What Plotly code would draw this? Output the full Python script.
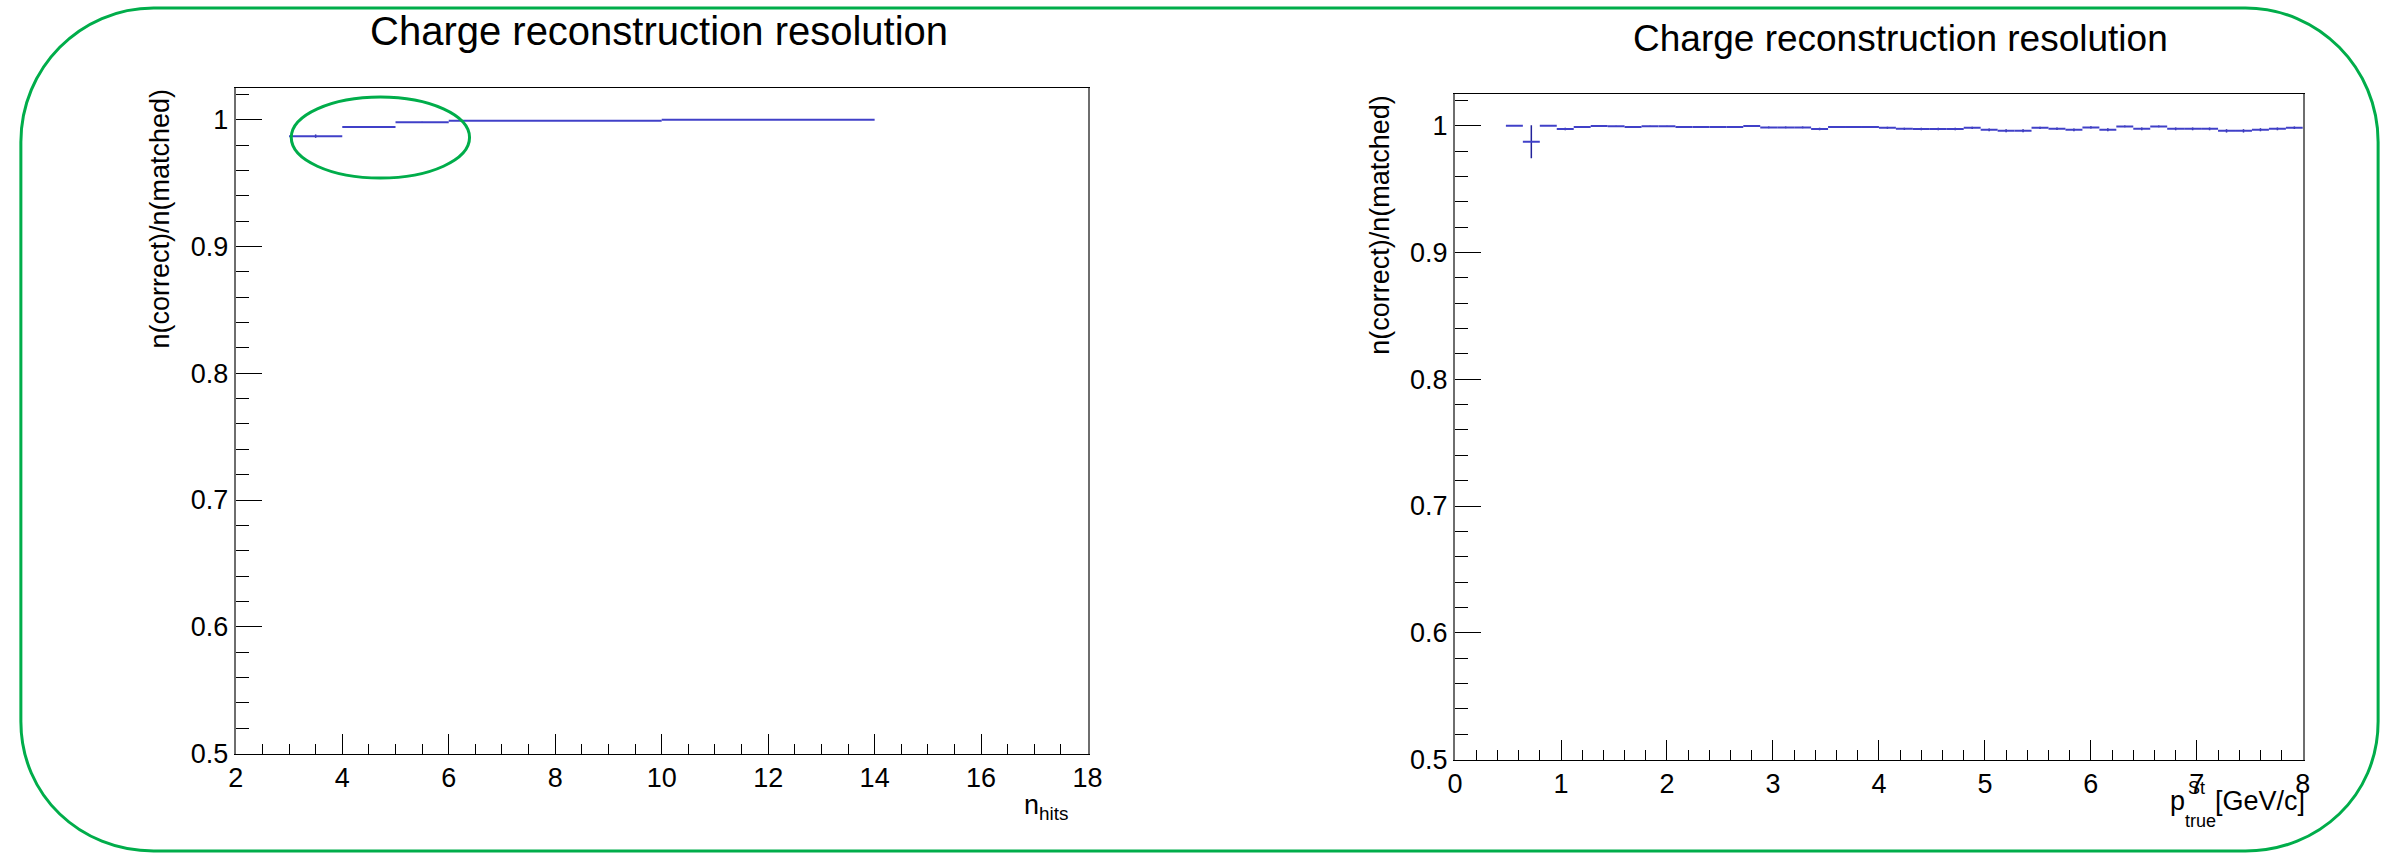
import plotly.graph_objects as go

W, H = 2405, 866
FONT = "Liberation Sans, Arial, Helvetica, sans-serif"

# ---------------- data ----------------
title_text = "Charge reconstruction resolution"
ytitle_text = "n(correct)/n(matched)"

# left: efficiency vs number of hits
nhits_center = [3.5, 4.5, 5.5, 8.0, 12.0]
nhits_halfwidth = [0.5, 0.5, 0.5, 2.0, 2.0]
eff_nhits = [0.987, 0.9942, 0.998, 0.9992, 0.99995]
err_nhits = [0.0013, 0.0008, 0.0004, 0.0002, 0.0001]

# right: efficiency vs true momentum at station (bins of 0.16 GeV/c)
p_center = [0.56, 0.72, 0.88, 1.04, 1.20, 1.36, 1.52, 1.68, 1.84, 2.00,
            2.16, 2.32, 2.48, 2.64, 2.80, 2.96, 3.12, 3.28, 3.44, 3.60,
            3.76, 3.92, 4.08, 4.24, 4.40, 4.56, 4.72, 4.88, 5.04, 5.20,
            5.36, 5.52, 5.68, 5.84, 6.00, 6.16, 6.32, 6.48, 6.64, 6.80,
            6.96, 7.12, 7.28, 7.44, 7.60, 7.76, 7.92]
p_halfwidth = [0.08] * len(p_center)
eff_p = [1.0, 0.9874, 1.0, 0.9974, 0.999, 0.9998, 0.9997, 0.999, 0.9997, 0.9997,
         0.999, 0.999, 0.999, 0.999, 0.9999, 0.9987, 0.9987, 0.9987, 0.9974, 0.999,
         0.999, 0.999, 0.9984, 0.9976, 0.9974, 0.9974, 0.9974, 0.9984, 0.9968, 0.996,
         0.996, 0.9984, 0.9976, 0.9968, 0.9987, 0.9968, 0.9995, 0.9976, 0.9995, 0.9976,
         0.9976, 0.9976, 0.996, 0.996, 0.9968, 0.9976, 0.9984]
err_p = [0.0, 0.013, 0.0, 0.001, 0.0006, 0.0003, 0.0003, 0.0006, 0.0003, 0.0003,
         0.0006, 0.0006, 0.0006, 0.0006, 0.0002, 0.0007, 0.0007, 0.0007, 0.001, 0.0006,
         0.0006, 0.0006, 0.0008, 0.0009, 0.001, 0.001, 0.001, 0.0009, 0.0011, 0.0012,
         0.0012, 0.0009, 0.001, 0.0011, 0.0009, 0.0012, 0.0006, 0.0011, 0.0007, 0.0011,
         0.0011, 0.0011, 0.0013, 0.0013, 0.0012, 0.0011, 0.001]

# ---------------- helpers ----------------
VSCALE = 1 / 0.982  # compensates the slight vertical squeeze seen in the rendered page


def px(x):
    return x / W


def py(y):
    return max(0.0, 1 - (y * VSCALE) / H)


LINE_BLUE = "#4040c8"
ERR_BLUE = "#22229a"
GREEN = "#00ad4a"

fig = go.Figure()

fig.add_trace(go.Scatter(
    x=nhits_center, y=eff_nhits, mode="markers",
    marker=dict(size=2, color=LINE_BLUE, opacity=0),
    error_x=dict(type="data", array=nhits_halfwidth, symmetric=True, width=0,
                 thickness=2, color=LINE_BLUE),
    error_y=dict(type="data", array=err_nhits, symmetric=True, width=0,
                 thickness=1.5, color=ERR_BLUE),
    xaxis="x", yaxis="y", showlegend=False, hoverinfo="x+y",
))

fig.add_trace(go.Scatter(
    x=p_center, y=eff_p, mode="markers",
    marker=dict(size=2, color=LINE_BLUE, opacity=0),
    error_x=dict(type="data", array=p_halfwidth, symmetric=True, width=0,
                 thickness=2, color=LINE_BLUE),
    error_y=dict(type="data", array=err_p, symmetric=True, width=0,
                 thickness=1.5, color=ERR_BLUE),
    xaxis="x2", yaxis="y2", showlegend=False, hoverinfo="x+y",
))

tickfont = dict(family=FONT, size=27, color="black")

common_x = dict(showgrid=False, zeroline=False, showline=True, linecolor="black",
                linewidth=1, mirror=True, ticks="inside", ticklen=20, tickwidth=1,
                tickcolor="black", tickfont=tickfont, tickmode="linear")
common_y = dict(showgrid=False, zeroline=False, showline=True, linecolor="#6e6e6e",
                linewidth=2, mirror=True, ticks="inside", ticklen=26, tickwidth=1,
                tickcolor="black", tickfont=tickfont, tickmode="linear",
                range=[0.5, 1.025], tick0=0.5, dtick=0.1,
                minor=dict(dtick=0.02, tick0=0.5, ticklen=13, ticks="inside",
                           tickcolor="black", tickwidth=1, showgrid=False))

fig.update_layout(
    width=W, height=H, autosize=False,
    margin=dict(l=0, r=0, t=0, b=0),
    paper_bgcolor="white", plot_bgcolor="white",
    font=dict(family=FONT, color="black"),
    xaxis=dict(domain=[px(230), px(1090)], anchor="y", range=[2, 18], tick0=2, dtick=2,
               minor=dict(dtick=0.5, tick0=2, ticklen=10, ticks="inside",
                          tickcolor="black", tickwidth=1, showgrid=False),
               **common_x),
    yaxis=dict(domain=[py(753), py(88)], anchor="x", **common_y),
    xaxis2=dict(domain=[px(1461), px(2317)], anchor="y2", range=[0, 8], tick0=0, dtick=1,
                minor=dict(dtick=0.2, tick0=0, ticklen=10, ticks="inside",
                           tickcolor="black", tickwidth=1, showgrid=False),
                **common_x),
    yaxis2=dict(domain=[py(759), py(94)], anchor="x2", **common_y),
)

annotations = [
    dict(text=title_text, x=px(657), y=py(31), xanchor="center", yanchor="middle",
         font=dict(family=FONT, size=40, color="black")),
    dict(text=title_text, x=px(1911), y=py(38), xanchor="center", yanchor="middle",
         font=dict(family=FONT, size=37, color="black")),
    dict(text=ytitle_text, x=px(154), y=py(88), xanchor="center", yanchor="top",
         textangle=-90, font=dict(family=FONT, size=27, color="black")),
    dict(text=ytitle_text, x=px(1385), y=py(94), xanchor="center", yanchor="top",
         textangle=-90, font=dict(family=FONT, size=27, color="black")),
    dict(text="n<sub>hits</sub>", x=px(1071), y=py(806), xanchor="right", yanchor="middle",
         font=dict(family=FONT, size=27, color="black")),
    dict(text="p", x=px(2199), y=py(800), xanchor="right", yanchor="middle",
         font=dict(family=FONT, size=27, color="black")),
    dict(text="St", x=px(2200), y=py(787), xanchor="left", yanchor="middle",
         font=dict(family=FONT, size=18, color="black")),
    dict(text="true", x=px(2197), y=py(820), xanchor="left", yanchor="middle",
         font=dict(family=FONT, size=18, color="black")),
    dict(text="[GeV/c]", x=px(2320), y=py(800), xanchor="right", yanchor="middle",
         font=dict(family=FONT, size=27, color="black")),
]
for a in annotations:
    a.update(xref="paper", yref="paper", showarrow=False, borderpad=0)
fig.update_layout(annotations=annotations)

# rounded green frame
x0, x1, y0, y1, r = 13, 2393, 8, 855, 134
k = 0.5523 * r


def P(x, y):
    return f"{px(x):.6f},{py(y):.6f}"


path = (f"M {P(x0 + r, y0)} L {P(x1 - r, y0)} "
        f"C {P(x1 - r + k, y0)} {P(x1, y0 + r - k)} {P(x1, y0 + r)} "
        f"L {P(x1, y1 - r)} "
        f"C {P(x1, y1 - r + k)} {P(x1 - r + k, y1)} {P(x1 - r, y1)} "
        f"L {P(x0 + r, y1)} "
        f"C {P(x0 + r - k, y1)} {P(x0, y1 - r + k)} {P(x0, y1 - r)} "
        f"L {P(x0, y0 + r)} "
        f"C {P(x0, y0 + r - k)} {P(x0 + r - k, y0)} {P(x0 + r, y0)} Z")

fig.add_shape(type="path", path=path, xref="paper", yref="paper",
              line=dict(color=GREEN, width=3), fillcolor="rgba(0,0,0,0)")
fig.add_shape(type="circle", xref="paper", yref="paper",
              x0=px(286), x1=px(466), y0=py(178), y1=py(97),
              line=dict(color=GREEN, width=3), fillcolor="rgba(0,0,0,0)")

fig.write_html("out.html")
